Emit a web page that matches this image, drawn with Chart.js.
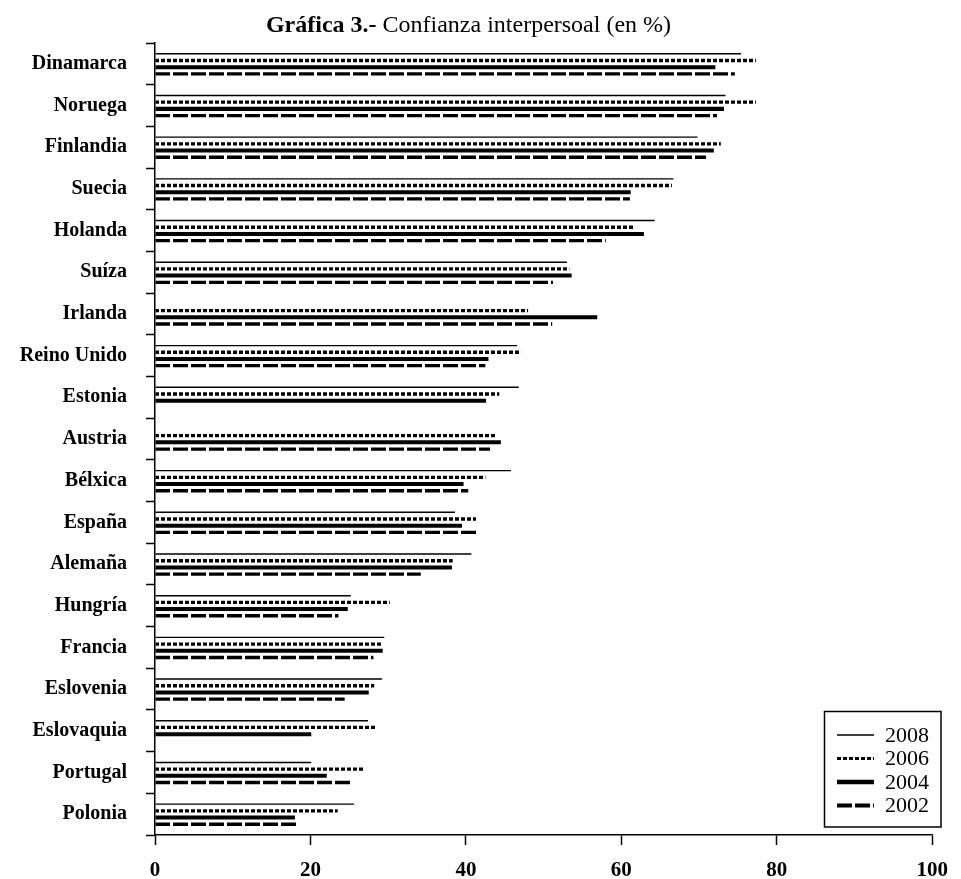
<!DOCTYPE html>
<html><head><meta charset="utf-8">
<script src="https://cdn.jsdelivr.net/npm/chart.js@4/dist/chart.umd.min.js"></script>
<style>
html,body{margin:0;padding:0;background:#fff;}
#wrap{position:relative;width:961px;height:879px;}
#title{position:absolute;left:-12px;top:12px;width:961px;text-align:center;font:24px "Liberation Serif",serif;line-height:24px;color:#000;}
canvas{position:absolute;left:0;top:0;}
</style></head><body>
<div id="wrap"><canvas id="c" width="961" height="879"></canvas><div id="title"><b>Gráfica 3.-</b> Confianza interpersoal (en %)</div></div>
<script>
const categories = ['Dinamarca','Noruega','Finlandia','Suecia','Holanda','Suíza','Irlanda','Reino Unido','Estonia','Austria','Bélxica','España','Alemaña','Hungría','Francia','Eslovenia','Eslovaquia','Portugal','Polonia'];
const values2008 = [75.4, 73.4, 69.8, 66.7, 64.3, 53.0, null, 46.6, 46.8, null, 45.8, 38.6, 40.7, 25.2, 29.5, 29.2, 27.4, 20.1, 25.6];
const values2006 = [77.3, 77.3, 72.8, 66.5, 61.5, 53.3, 48.0, 47.1, 44.3, 44.0, 42.5, 41.3, 38.3, 30.2, 29.3, 28.2, 28.4, 26.8, 23.5];
const values2004 = [72.1, 73.2, 71.9, 61.2, 62.9, 53.6, 56.9, 42.9, 42.6, 44.5, 39.7, 39.5, 38.2, 24.8, 29.3, 27.5, 20.1, 22.1, 18.0];
const values2002 = [74.6, 72.3, 70.9, 61.1, 58.0, 51.2, 51.1, 42.5, null, 43.1, 40.3, 41.4, 34.2, 23.6, 28.1, 24.4, null, 25.4, 18.5];
const seriesNames = ['2008','2006','2004','2002'];
const xTickValues = [0, 20, 40, 60, 80, 100];

const canvas = document.getElementById('c');
const ctx0 = canvas.getContext('2d');
function makePattern(on, off) {
  const c = document.createElement('canvas');
  c.width = on + off; c.height = 1;
  const g = c.getContext('2d');
  g.fillStyle = '#000';
  g.fillRect(0, 0, on, 1);
  return ctx0.createPattern(c, 'repeat');
}
const patDot = makePattern(4, 2);
const patDash = makePattern(15, 3);

Chart.defaults.font.family = '"Liberation Serif", "Times New Roman", serif';
Chart.defaults.color = '#000';

const patternAlign = {
  id: 'patternAlign',
  beforeDatasetsDraw(chart) {
    const m = new DOMMatrix().translateSelf(chart.chartArea.left, 0);
    patDot.setTransform(m);
    patDash.setTransform(m);
  }
};

const legendBox = {
  id: 'legendBox',
  afterDraw(chart) {
    const ctx = chart.ctx;
    ctx.save();
    ctx.strokeStyle = '#000';
    ctx.lineWidth = 1.5;
    ctx.strokeRect(824.5, 711.5, 116.5, 115.5);
    const styles = [
      {w: 1.5, dash: []},
      {w: 3, dash: [4, 2]},
      {w: 4.5, dash: []},
      {w: 4, dash: [15, 3]}
    ];
    ctx.font = '22px "Liberation Serif", serif';
    ctx.textBaseline = 'middle';
    ctx.fillStyle = '#000';
    seriesNames.forEach((name, i) => {
      const y = 735 + i * 23.5;
      ctx.beginPath();
      ctx.lineWidth = styles[i].w;
      ctx.setLineDash(styles[i].dash);
      ctx.moveTo(837, y);
      ctx.lineTo(874, y);
      ctx.stroke();
      ctx.setLineDash([]);
      ctx.fillText(name, 885, y + 1);
    });
    ctx.restore();
  }
};

new Chart(canvas, {
  type: 'bar',
  data: {
    labels: categories,
    datasets: [
      {label: seriesNames[0], data: values2008, backgroundColor: '#000', barPercentage: 0.21},
      {label: seriesNames[1], data: values2006, backgroundColor: patDot, barPercentage: 0.5},
      {label: seriesNames[2], data: values2004, backgroundColor: '#000', barPercentage: 0.6},
      {label: seriesNames[3], data: values2002, backgroundColor: patDash, barPercentage: 0.5}
    ]
  },
  options: {
    indexAxis: 'y',
    responsive: false,
    animation: false,
    devicePixelRatio: 1,
    layout: {padding: {top: 43, right: 20, left: 0, bottom: 0}},
    datasets: {bar: {categoryPercentage: 0.643, borderWidth: 0, inflateAmount: 0}},
    plugins: {legend: {display: false}, title: {display: false}, tooltip: {enabled: false}},
    scales: {
      x: {
        type: 'linear', min: 0, max: 100,
        afterBuildTicks(scale) { scale.ticks = xTickValues.map(v => ({value: v})); },
        afterFit(scale) { scale.height = 44; },
        border: {display: true, color: '#000', width: 1.5},
        grid: {display: true, drawOnChartArea: false, drawTicks: true, tickLength: 10, tickColor: '#000', tickWidth: 1.5},
        ticks: {font: {size: 21, weight: 'bold'}, color: '#000', padding: 13, maxRotation: 0}
      },
      y: {
        afterFit(scale) { scale.width = 155; },
        border: {display: true, color: '#000', width: 1.5},
        grid: {display: true, drawOnChartArea: false, drawTicks: true, tickLength: 9, tickColor: '#000', tickWidth: 1.5},
        ticks: {font: {size: 20, weight: 'bold'}, color: '#000', padding: 19, autoSkip: false}
      }
    }
  },
  plugins: [patternAlign, legendBox]
});
</script>
</body></html>
